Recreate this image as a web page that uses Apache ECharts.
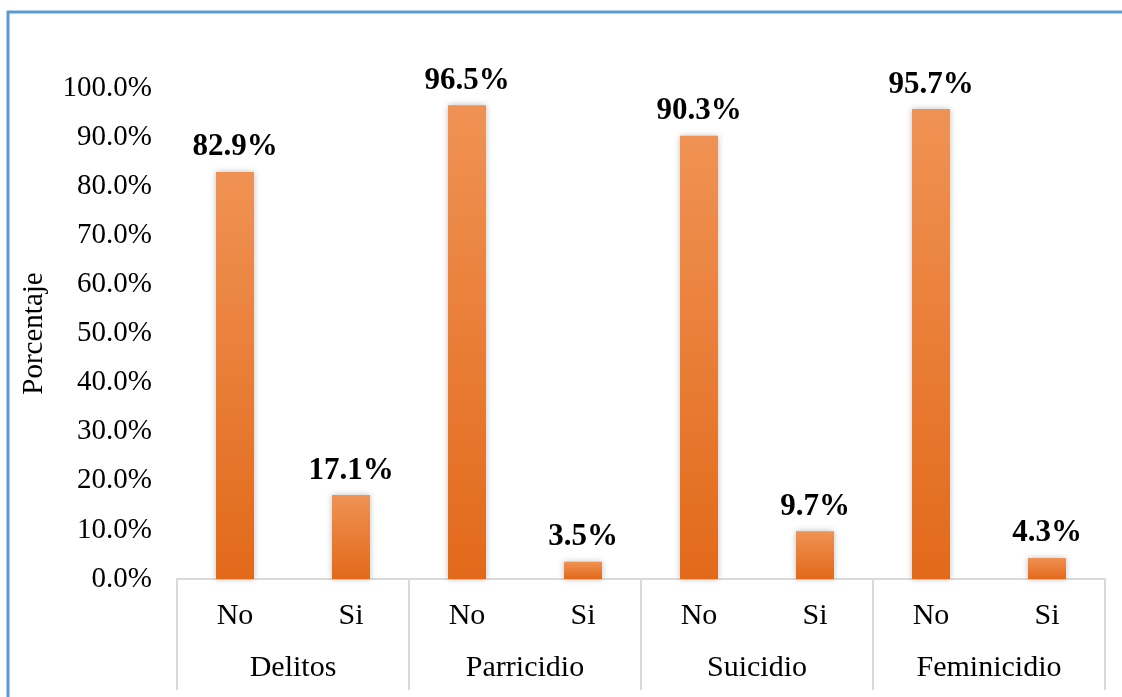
<!DOCTYPE html>
<html>
<head>
<meta charset="utf-8">
<script src="https://cdn.jsdelivr.net/npm/echarts@6/dist/echarts.min.js"></script>
<style>
  html, body { margin: 0; padding: 0; background: #fff; }
  #chart { width: 1122px; height: 697px; }
</style>
</head>
<body>
<div id="chart"></div>
<script>
var groups = ['Delitos', 'Parricidio', 'Suicidio', 'Feminicidio'];
var answers = ['No', 'Si', 'No', 'Si', 'No', 'Si', 'No', 'Si'];
var percents = [82.9, 17.1, 96.5, 3.5, 90.3, 9.7, 95.7, 4.3];
var yTicks = [0, 10, 20, 30, 40, 50, 60, 70, 80, 90, 100];

var serif = '"Liberation Serif", "DejaVu Serif", serif';

var myChart = echarts.init(document.getElementById('chart'));
var option = {
    backgroundColor: '#fff',
    animation: false,
    graphic: [{
        type: 'rect',
        shape: { x: 8, y: 12, width: 1130, height: 700 },
        style: { fill: 'none', stroke: '#5b9bd5', lineWidth: 3 },
        z: 100
    }],
    grid: {
        left: 177,
        right: 17,
        top: 88,
        bottom: 118
    },
    xAxis: [{
        type: 'category',
        data: answers,
        position: 'bottom',
        axisLine: { show: false },
        axisTick: { show: false },
        axisLabel: {
            margin: 22,
            fontFamily: serif,
            fontSize: 30,
            color: '#000'
        }
    }, {
        type: 'category',
        data: groups,
        position: 'bottom',
        axisLine: { show: true, lineStyle: { color: '#d9d9d9', width: 2 } },
        axisTick: {
            show: true,
            inside: false,
            length: 111,
            lineStyle: { color: '#d9d9d9', width: 2 }
        },
        axisLabel: {
            margin: 74,
            fontFamily: serif,
            fontSize: 30,
            color: '#000'
        }
    }],
    yAxis: {
        type: 'value',
        min: yTicks[0],
        max: yTicks[yTicks.length - 1],
        interval: 10,
        name: 'Porcentaje',
        nameLocation: 'middle',
        nameGap: 128,
        nameRotate: 90,
        nameTextStyle: {
            fontFamily: serif,
            fontSize: 29,
            color: '#000'
        },
        axisLine: { show: false },
        axisTick: { show: false },
        splitLine: { show: false },
        axisLabel: {
            margin: 25,
            fontFamily: serif,
            fontSize: 29,
            color: '#000',
            formatter: function (val) {
                return val.toFixed(1) + '%';
            }
        }
    },
    series: [{
        type: 'bar',
        xAxisIndex: 0,
        data: percents,
        barWidth: 38,
        itemStyle: {
            color: new echarts.graphic.LinearGradient(0, 0, 0, 1, [
                { offset: 0, color: '#f09254' },
                { offset: 1, color: '#e2691a' }
            ]),
            shadowColor: 'rgba(0,0,0,0.25)',
            shadowBlur: 6
        },
        label: {
            show: true,
            position: 'top',
            distance: 9,
            fontFamily: serif,
            fontSize: 31,
            fontWeight: 'bold',
            color: '#000',
            formatter: function (p) {
                return p.value.toFixed(1) + '%';
            }
        }
    }]
};
myChart.setOption(option);
</script>
</body>
</html>
